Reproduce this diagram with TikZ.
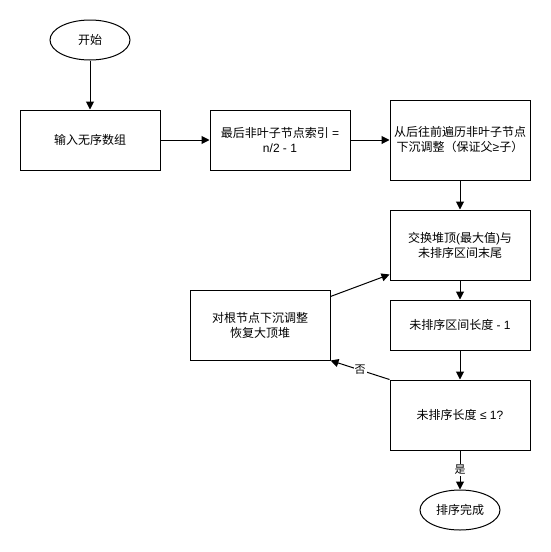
\documentclass[tikz,border=0pt]{standalone}
\usepackage{fontspec}
\setmainfont{Noto Sans CJK SC}
\newfontfamily\lat{Liberation Sans}
\usetikzlibrary{arrows.meta,shapes.geometric}
\begin{document}
\begin{tikzpicture}[x=1pt,y=-1pt, font=\fontsize{12pt}{15pt}\selectfont,
 box/.style={draw, line width=1pt, minimum width=140pt, align=center, inner sep=0pt},
 term/.style={draw, ellipse, line width=1pt, minimum width=80pt, minimum height=40pt, inner sep=0pt},
 arr/.style={line width=1pt, -{Triangle[length=8pt,width=8pt]}},
 lbl/.style={fill=white, inner sep=1pt, font=\fontsize{11pt}{13pt}\selectfont}]
\useasboundingbox (0,0) rectangle (551,552);
\node[term] (start) at (90,40) {开始};
\node[box, minimum height=60pt] (input) at (90,140) {输入无序数组};
\node[box, minimum height=60pt] (last) at (280,140) {最后非叶子节点索引{\lat{} =}\\{\lat n/2 - 1}};
\node[box, minimum height=80pt] (build) at (460,140) {从后往前遍历非叶子节点\\下沉调整（保证父{\lat ≥}子）};
\node[box, minimum height=70pt] (swap) at (460,245) {交换堆顶{\lat(}最大值{\lat)}与\\未排序区间末尾};
\node[box, minimum height=50pt] (dec) at (460,325) {未排序区间长度{\lat{} - 1}};
\node[box, minimum height=70pt] (check) at (460,415) {未排序长度{\lat{} ≤ 1?}};
\node[box, minimum height=70pt] (heapify) at (260,325) {对根节点下沉调整\\恢复大顶堆};
\node[term] (end) at (460,510) {排序完成};
\draw[arr] (start) -- (input);
\draw[arr] (input) -- (last);
\draw[arr] (last) -- (build);
\draw[arr] (build) -- (swap);
\draw[arr] (swap) -- (dec);
\draw[arr] (dec) -- (check);
\draw[arr] (check) -- node[lbl]{是} (end);
\draw[arr] (check.north west) -- node[lbl]{否} (heapify.south east);
\draw[arr] ([yshift=-7pt]heapify.north east) -- ([yshift=6pt]swap.south west);
\end{tikzpicture}
\end{document}
